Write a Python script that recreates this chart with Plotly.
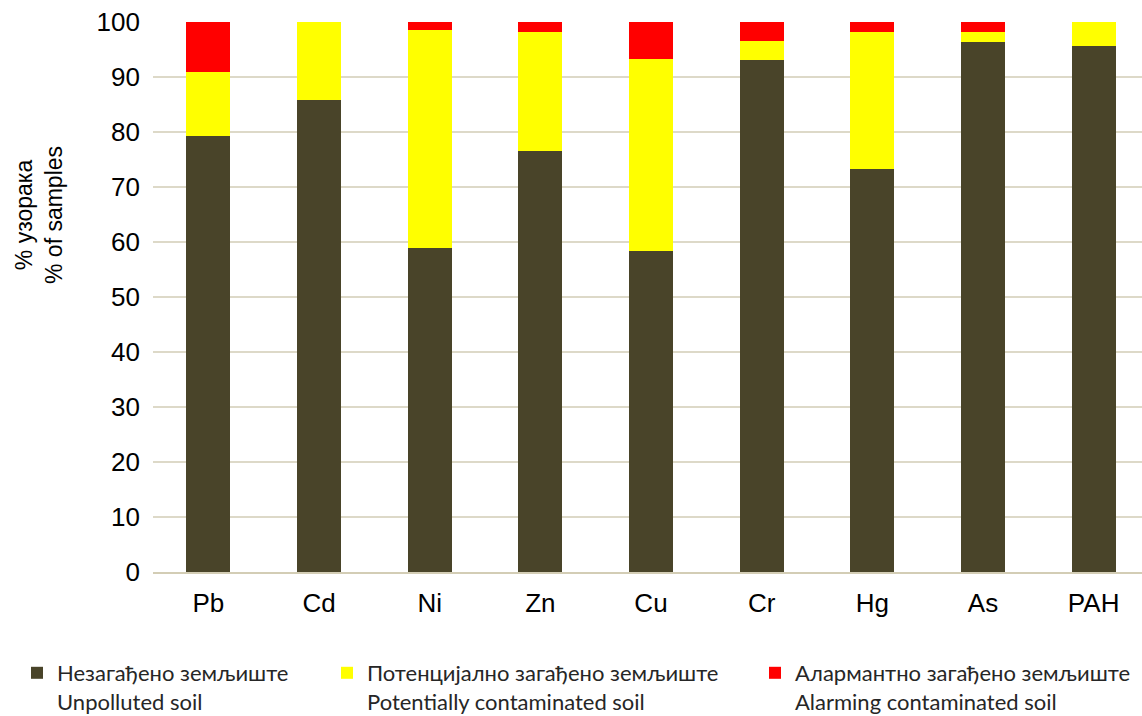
import plotly.graph_objects as go

# Share of soil samples per contamination class, by parameter
elements = ["Pb", "Cd", "Ni", "Zn", "Cu", "Cr", "Hg", "As", "PAH"]
unpolluted = [79.4, 85.9, 59.0, 76.6, 58.4, 93.2, 73.3, 96.5, 95.7]
potential = [11.5, 14.1, 39.6, 21.6, 34.9, 3.4, 24.9, 1.7, 4.3]
alarming = [9.1, 0.0, 1.4, 1.8, 6.7, 3.4, 1.8, 1.8, 0.0]

series_names = [
    "Незагађено земљиште<br>Unpolluted soil",
    "Потенцијално загађено земљиште<br>Potentially contaminated soil",
    "Алармантно загађено земљиште<br>Alarming contaminated soil",
]
series_values = [unpolluted, potential, alarming]
series_colors = ["#494429", "#FFFF00", "#FF0000"]
legend_ids = ["legend", "legend2", "legend3"]
y_ticks = [0, 10, 20, 30, 40, 50, 60, 70, 80, 90, 100]

fig = go.Figure()
for name, vals, color, lg in zip(series_names, series_values, series_colors, legend_ids):
    fig.add_trace(go.Bar(
        x=elements, y=vals, name=name, legend=lg, showlegend=True,
        marker=dict(color=color, line=dict(width=0)),
    ))

W, H = 1142, 716
ml, mr, mt, mb = 153, 0, 22, 144
plot_w = W - ml - mr
plot_h = H - mt - mb


def px_to_paper_x(px):
    return (px - ml) / plot_w


def px_to_paper_y(py):
    return (H - mb - py) / plot_h


legend_font = dict(family="Lato", size=22, color="#262626")
legend_common = dict(
    orientation="v", xref="container", yref="container",
    xanchor="left", yanchor="top", valign="top",
    bgcolor="rgba(0,0,0,0)", font=legend_font, borderwidth=0,
    itemclick=False, itemdoubleclick=False, visible=True,
)
legend_top = 1 - 652 / H

fig.update_layout(
    width=W, height=H,
    margin=dict(l=ml, r=mr, t=mt, b=mb, autoexpand=False),
    barmode="stack",
    bargap=0.6,
    showlegend=True,
    plot_bgcolor="white",
    paper_bgcolor="white",
    font=dict(family="Liberation Sans, Arial, sans-serif", color="#000000"),
    legend=dict(x=17 / W, y=legend_top, **legend_common),
    legend2=dict(x=327 / W, y=legend_top, **legend_common),
    legend3=dict(x=755 / W, y=legend_top, **legend_common),
    xaxis=dict(
        range=[-0.5, 8.437],
        showgrid=False,
        showline=True, linecolor="#D3CDB5", linewidth=2,
        ticks="",
        tickfont=dict(size=26, color="#000000"),
        ticklabelstandoff=7,
    ),
    yaxis=dict(
        range=[0, 100.05],
        tickvals=y_ticks,
        showgrid=True, gridcolor="#DDD9C8", gridwidth=2,
        zeroline=False,
        showline=False,
        ticks="",
        tickfont=dict(size=26, color="#000000"),
        ticklabelstandoff=12,
    ),
    annotations=[dict(
        text="% узорака<br>% of samples",
        xref="paper", yref="paper",
        x=px_to_paper_x(39), y=px_to_paper_y(215),
        xanchor="center", yanchor="middle",
        textangle=-90, showarrow=False,
        font=dict(family="Liberation Sans, Arial, sans-serif", size=23, color="#000000"),
    )],
)

fig.write_html("out.html")
